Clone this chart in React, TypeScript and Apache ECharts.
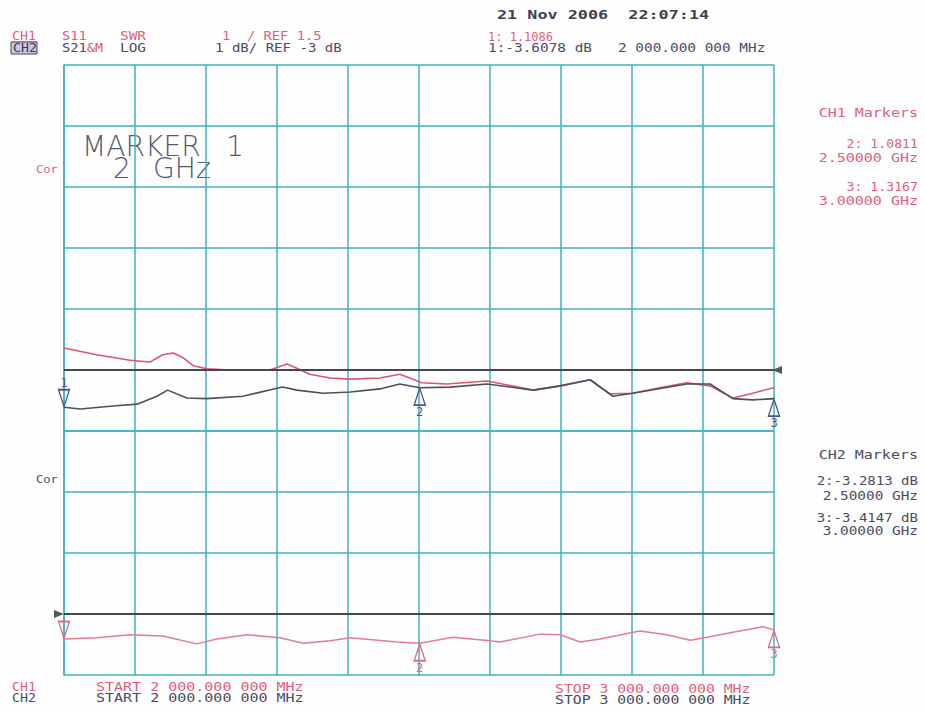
import React, { useEffect, useRef } from "react";
import * as echarts from "echarts";

// ---- data ----
// Frequency axis (MHz)
const startMHz = 2000;
const stopMHz = 3000;

// CH1 (SWR, 1/div, ref 1.5): data trace (red)
const redFreq = [2000, 2046, 2093, 2121, 2139, 2154, 2168, 2182, 2201, 2234, 2290, 2314, 2328, 2346, 2375, 2403, 2445, 2473, 2487, 2504, 2539, 2596, 2661, 2699, 2741, 2769, 2801, 2839, 2877, 2910, 2942, 2970, 3000];
const redSwr = [1.86, 1.75, 1.66, 1.63, 1.75, 1.78, 1.70, 1.57, 1.52, 1.50, 1.50, 1.60, 1.53, 1.43, 1.37, 1.35, 1.37, 1.43, 1.37, 1.29, 1.27, 1.32, 1.17, 1.24, 1.34, 1.11, 1.12, 1.21, 1.29, 1.24, 1.04, 1.12, 1.21];

// CH1 second trace (dark)
const darkFreq = [2000, 2023, 2069, 2103, 2131, 2146, 2173, 2201, 2252, 2300, 2308, 2328, 2365, 2403, 2445, 2473, 2501, 2544, 2596, 2661, 2699, 2741, 2773, 2801, 2877, 2910, 2942, 2970, 3000];
const darkSwr = [0.89, 0.86, 0.91, 0.94, 1.07, 1.17, 1.04, 1.03, 1.07, 1.20, 1.22, 1.17, 1.12, 1.14, 1.19, 1.27, 1.21, 1.22, 1.27, 1.17, 1.24, 1.34, 1.07, 1.12, 1.27, 1.27, 1.03, 1.01, 1.03];

// CH2 (S21 LOG, 1 dB/div, ref -3 dB)
const pinkFreq = [2000, 2046, 2093, 2139, 2187, 2215, 2258, 2304, 2337, 2375, 2403, 2469, 2501, 2548, 2600, 2614, 2670, 2699, 2727, 2755, 2811, 2849, 2882, 2906, 2942, 2985, 3000];
const pinkDb = [-3.41, -3.39, -3.34, -3.36, -3.49, -3.41, -3.34, -3.39, -3.48, -3.44, -3.39, -3.46, -3.48, -3.38, -3.44, -3.46, -3.33, -3.34, -3.46, -3.41, -3.28, -3.34, -3.43, -3.38, -3.30, -3.21, -3.26];

const ch1Ref = 1.5;
const ch2Ref = -3;
const markerIdxDark = [0, 16, 28];
const markerIdxPink = [0, 12, 26];

const PINK = "#dc5f7e";
const DARK = "#4a4b5e";
const GRIDC = "#3fb2bf";
const NAVY = "#4a5688";

const zip = (a: number[], b: number[]) => a.map((v, i) => [v, b[i]]);

const MONO = '"DejaVu Sans Mono", monospace';

function txt(text: string, x: number, y: number, fill: string, opts: any = {}) {
  return {
    type: "text",
    x,
    y,
    scaleX: opts.sx ?? 1.25,
    silent: true,
    style: {
      text,
      fill,
      font: `${opts.weight ?? "normal"} ${opts.size ?? 12}px ${opts.family ?? MONO}`,
      align: opts.align ?? "left",
      verticalAlign: "middle",
    },
  };
}

const DOWN = "path://M0,0L12,0L6,18Z";
const UP = "path://M6,0L12,18L0,18Z";

export default function App() {
  const ref = useRef<HTMLDivElement>(null);
  useEffect(() => {
    const chart = echarts.init(ref.current!, undefined, { renderer: "svg" });
    const hollow = (color: string) => ({ color: "rgba(0,0,0,0)", borderColor: color, borderWidth: 1.5 });
    const lbl = (text: string, color: string, position: string) => ({
      show: true, position, distance: 0, formatter: text, color, fontSize: 12, fontFamily: "DejaVu Sans Mono",
    });
    const option: any = {
      animation: false,
      backgroundColor: "#fefefe",
      grid: { left: 64, right: 151, top: 65, bottom: 36, show: false },
      xAxis: {
        type: "value",
        min: startMHz,
        max: stopMHz,
        interval: 100,
        axisLabel: { show: false },
        axisTick: { show: false },
        axisLine: { show: true, lineStyle: { color: GRIDC, width: 1.5 } },
        splitLine: { show: true, lineStyle: { color: GRIDC, width: 1.5 } },
      },
      yAxis: [
        {
          type: "value",
          min: -4,
          max: 6,
          interval: 1,
          axisLabel: { show: false },
          axisTick: { show: false },
          axisLine: { show: true, lineStyle: { color: GRIDC, width: 1.5 } },
          splitLine: { show: true, lineStyle: { color: GRIDC, width: 1.5 } },
        },
        { type: "value", min: -3.5, max: 6.5, show: false, splitLine: { show: false } },
      ],
      series: [
        {
          name: "CH1 S11 SWR",
          type: "line",
          yAxisIndex: 1,
          data: zip(redFreq, redSwr),
          showSymbol: false,
          lineStyle: { color: "#d9566f", width: 1.6 },
          z: 3,
        },
        {
          name: "CH1 trace 2",
          type: "line",
          yAxisIndex: 1,
          data: zip(darkFreq, darkSwr),
          showSymbol: false,
          lineStyle: { color: "#4c4e62", width: 1.6 },
          z: 4,
          markLine: {
            silent: true,
            symbol: "none",
            label: { show: false },
            lineStyle: { color: "#45464f", width: 2.2, type: "solid" },
            data: [{ yAxis: ch1Ref }],
          },
          markPoint: {
            silent: true,
            data: [
              {
                coord: [darkFreq[markerIdxDark[0]], darkSwr[markerIdxDark[0]]],
                symbol: DOWN, symbolSize: [11, 17], symbolOffset: [0, -9],
                itemStyle: hollow(NAVY),
                label: lbl("1", NAVY, "top"),
              },
              {
                coord: [darkFreq[markerIdxDark[1]], darkSwr[markerIdxDark[1]]],
                symbol: UP, symbolSize: [11, 17], symbolOffset: [0, 9],
                itemStyle: hollow(NAVY),
                label: lbl("2", NAVY, "bottom"),
              },
              {
                coord: [darkFreq[markerIdxDark[2]], darkSwr[markerIdxDark[2]]],
                symbol: UP, symbolSize: [11, 17], symbolOffset: [0, 9],
                itemStyle: hollow(NAVY),
                label: lbl("3", NAVY, "bottom"),
              },
              {
                coord: [stopMHz, ch1Ref],
                symbol: "triangle", symbolSize: [8, 10], symbolRotate: 90, symbolOffset: [3, 0],
                itemStyle: { color: "#55555e" },
                label: { show: false },
              },
            ],
          },
        },
        {
          name: "CH2 S21 LOG",
          type: "line",
          yAxisIndex: 0,
          data: zip(pinkFreq, pinkDb),
          showSymbol: false,
          lineStyle: { color: "#e27d93", width: 1.5 },
          z: 3,
          markLine: {
            silent: true,
            symbol: "none",
            label: { show: false },
            lineStyle: { color: "#45464f", width: 2.2, type: "solid" },
            data: [{ yAxis: ch2Ref }],
          },
          markPoint: {
            silent: true,
            data: [
              {
                coord: [pinkFreq[markerIdxPink[0]], pinkDb[markerIdxPink[0]]],
                symbol: DOWN, symbolSize: [11, 17], symbolOffset: [0, -9],
                itemStyle: hollow("#d96a86"),
                label: { show: false },
              },
              {
                coord: [pinkFreq[markerIdxPink[1]], pinkDb[markerIdxPink[1]]],
                symbol: UP, symbolSize: [11, 17], symbolOffset: [0, 9],
                itemStyle: hollow("#d96a86"),
                label: lbl("2", "#d96a86", "bottom"),
              },
              {
                coord: [pinkFreq[markerIdxPink[2]], pinkDb[markerIdxPink[2]]],
                symbol: UP, symbolSize: [11, 17], symbolOffset: [0, 9],
                itemStyle: hollow("#d96a86"),
                label: lbl("3", "#d96a86", "bottom"),
              },
              {
                coord: [startMHz, ch2Ref],
                symbol: "triangle", symbolSize: [8, 10], symbolRotate: -90, symbolOffset: [-5, 0],
                itemStyle: { color: "#55555e" },
                label: { show: false },
              },
            ],
          },
        },
      ],
      graphic: [
        // header
        txt("21 Nov 2006  22:07:14", 497, 14, "#3e3f52", { size: 12, sx: 1.4, weight: "bold" }),
        txt("CH1", 12, 36, PINK, { sx: 1.1 }),
        { type: "line", silent: true, shape: { x1: 12, y1: 42, x2: 36, y2: 42 }, style: { stroke: PINK, lineWidth: 1 } },
        { type: "rect", silent: true, shape: { x: 11, y: 42, width: 26, height: 12 }, style: { fill: "#cdc5e4", stroke: "#4a4560", lineWidth: 1 } },
        txt("CH2", 13, 48, "#3c3852", { sx: 1.1 }),
        txt("S11", 62, 36, PINK, { sx: 1.15 }),
        txt("SWR", 120, 36, PINK, { sx: 1.2 }),
        txt("S21", 62, 48, DARK, { sx: 1.15 }),
        txt("&M", 87, 48, "#d8506a", { sx: 1.1 }),
        txt("LOG", 120, 48, DARK, { sx: 1.2 }),
        txt("1  / REF 1.5", 222, 36, PINK, { sx: 1.15 }),
        txt("1 dB/ REF -3 dB", 215, 48, DARK, { sx: 1.17 }),
        txt("1: 1.1086", 488, 37, PINK, { sx: 1.0 }),
        txt("1:-3.6078 dB   2 000.000 000 MHz", 488, 48, DARK, { sx: 1.2 }),
        // marker annotation
        txt("MARKER", 82, 146, "#55586c", { size: 29, sx: 0.97, family: '"DejaVu Sans", sans-serif', weight: "200" }),
        txt("1", 226, 146, "#55586c", { size: 29, sx: 0.97, family: '"DejaVu Sans", sans-serif', weight: "200" }),
        txt("2", 113, 168, "#55586c", { size: 29, sx: 0.97, family: '"DejaVu Sans", sans-serif', weight: "200" }),
        txt("GHz", 153, 168, "#55586c", { size: 29, sx: 0.97, family: '"DejaVu Sans", sans-serif', weight: "200" }),
        txt("Cor", 36, 169, PINK, { size: 11, sx: 1.1 }),
        txt("Cor", 36, 479, DARK, { size: 11, sx: 1.1 }),
        // right panel CH1
        txt("CH1 Markers", 918, 113, PINK, { align: "right", sx: 1.25 }),
        txt("2: 1.0811", 918, 144, PINK, { align: "right", sx: 1.1 }),
        txt("2.50000 GHz", 918, 158, PINK, { align: "right", sx: 1.25 }),
        txt("3: 1.3167", 918, 187, PINK, { align: "right", sx: 1.1 }),
        txt("3.00000 GHz", 918, 201, PINK, { align: "right", sx: 1.25 }),
        // right panel CH2
        txt("CH2 Markers", 918, 455, DARK, { align: "right", sx: 1.25 }),
        txt("2:-3.2813 dB", 918, 481, DARK, { align: "right", sx: 1.17 }),
        txt("2.50000 GHz", 918, 496, DARK, { align: "right", sx: 1.2 }),
        txt("3:-3.4147 dB", 918, 518, DARK, { align: "right", sx: 1.17 }),
        txt("3.00000 GHz", 918, 531, DARK, { align: "right", sx: 1.2 }),
        // footer
        txt("CH1", 12, 687, PINK, { sx: 1.1 }),
        txt("CH2", 12, 698, DARK, { sx: 1.1 }),
        txt("START 2 000.000 000 MHz", 96, 687, PINK, { sx: 1.25 }),
        txt("START 2 000.000 000 MHz", 96, 698, DARK, { sx: 1.25 }),
        txt("STOP 3 000.000 000 MHz", 555, 689, PINK, { sx: 1.23 }),
        txt("STOP 3 000.000 000 MHz", 555, 700, DARK, { sx: 1.23 }),
      ],
    };
    chart.setOption(option);
    return () => chart.dispose();
  }, []);
  return (
    <div
      ref={ref}
      style={{ position: "fixed", left: 0, top: 0, width: 925, height: 711, background: "#fefefe" }}
    />
  );
}
